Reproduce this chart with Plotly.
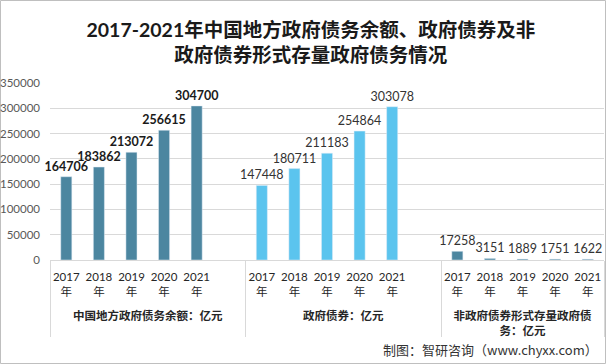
import plotly.graph_objects as go

# ---- data ----
years = ["2017", "2018", "2019", "2020", "2021"]
group_names = ["中国地方政府债务余额：亿元", "政府债券：亿元", "非政府债券形式存量政府债<br>务：亿元"]
local_debt = [164706, 183862, 213072, 256615, 304700]
gov_bonds = [147448, 180711, 211183, 254864, 303078]
non_bond_debt = [17258, 3151, 1889, 1751, 1622]
y_ticks = [0, 50000, 100000, 150000, 200000, 250000, 300000, 350000]

W, H = 606, 364
ML, MR, MT, MB = 50, 2, 83, 104

DARK = "#4C86A0"
LIGHT = "#5BC4EE"
FONT = "Lato, Noto Sans CJK SC"


def xcats(group, with_blank):
    g = "<b>" + group + "</b>"
    outer = [g] * len(years)
    inner = [y + "<br>年<br> " for y in years]
    if with_blank:
        outer = outer + [g]
        inner = inner + [" "]
    return [outer, inner]


def vals(v, with_blank):
    return list(v) + ([None] if with_blank else [])


def texts(v, with_blank):
    return [str(x) for x in v] + ([""] if with_blank else [])


fig = go.Figure()
fig.add_trace(go.Bar(
    x=xcats(group_names[0], True), y=vals(local_debt, True),
    text=texts(local_debt, True), textposition="outside", constraintext="none",
    textfont=dict(size=12.5, color="#1a1a1a", family=FONT, weight="bold"),
    marker_color=DARK, cliponaxis=False, showlegend=False,
))
fig.add_trace(go.Bar(
    x=xcats(group_names[1], True), y=vals(gov_bonds, True),
    text=texts(gov_bonds, True), textposition="outside", constraintext="none",
    textfont=dict(size=12.5, color="#333333", family=FONT),
    marker_color=LIGHT, cliponaxis=False, showlegend=False,
))
fig.add_trace(go.Bar(
    x=xcats(group_names[2], False), y=vals(non_bond_debt, False),
    text=texts(non_bond_debt, False), textposition="outside", constraintext="none",
    textfont=dict(size=12.5, color="#333333", family=FONT),
    marker_color=DARK, cliponaxis=False, showlegend=False,
))

fig.update_layout(
    width=W, height=H,
    margin=dict(l=ML, r=MR, t=MT, b=MB, autoexpand=False),
    paper_bgcolor="white", plot_bgcolor="white",
    barmode="overlay", bargap=0.66,
    font=dict(family=FONT, color="#404040"),
    title=dict(
        text="<b>2017-2021年中国地方政府债务余额、政府债券及非<br>政府债券形式存量政府债务情况</b>",
        x=0.513, xanchor="center", y=1 - 37 / H, yanchor="middle",
        font=dict(size=19.5, color="#1a1a1a", family=FONT),
        automargin=False,
    ),
    xaxis=dict(
        type="multicategory", automargin=False, tickangle=0,
        showgrid=False, showline=True, linecolor="#D9D9D9", linewidth=1,
        tickfont=dict(size=11.5, color="#262626"),
        showdividers=True, dividercolor="#D9D9D9", dividerwidth=1,
        ticks="", ticklabelstandoff=6,
    ),
    yaxis=dict(
        range=[0, 350000], tickvals=y_ticks, automargin=False,
        tickformat="d",
        showgrid=True, gridcolor="#D9D9D9", gridwidth=1,
        zeroline=False, showline=False,
        tickfont=dict(size=11.5, color="#595959"),
        ticklabelstandoff=9,
    ),
)

pw, ph = W - ML - MR, H - MT - MB

fig.add_annotation(
    text="制图：智研咨询（www.chyxx.com）",
    xref="paper", yref="paper",
    x=(W - ML - 6) / pw, y=-(349 - (H - MB)) / ph,
    xanchor="right", yanchor="middle", showarrow=False,
    font=dict(size=13, color="#333333", family="Noto Sans CJK SC"),
)

# thin frame around the whole picture
fig.add_shape(
    type="rect", xref="paper", yref="paper",
    x0=-(ML - 0.5) / pw, x1=1 + (MR - 0.5) / pw,
    y0=-(MB - 0.5) / ph, y1=1 + (MT - 0.5) / ph,
    line=dict(color="#BFBFBF", width=1), layer="below",
)

fig.write_html("out.html", config={"displayModeBar": False},
               post_script="document.body.style.margin='0';")
